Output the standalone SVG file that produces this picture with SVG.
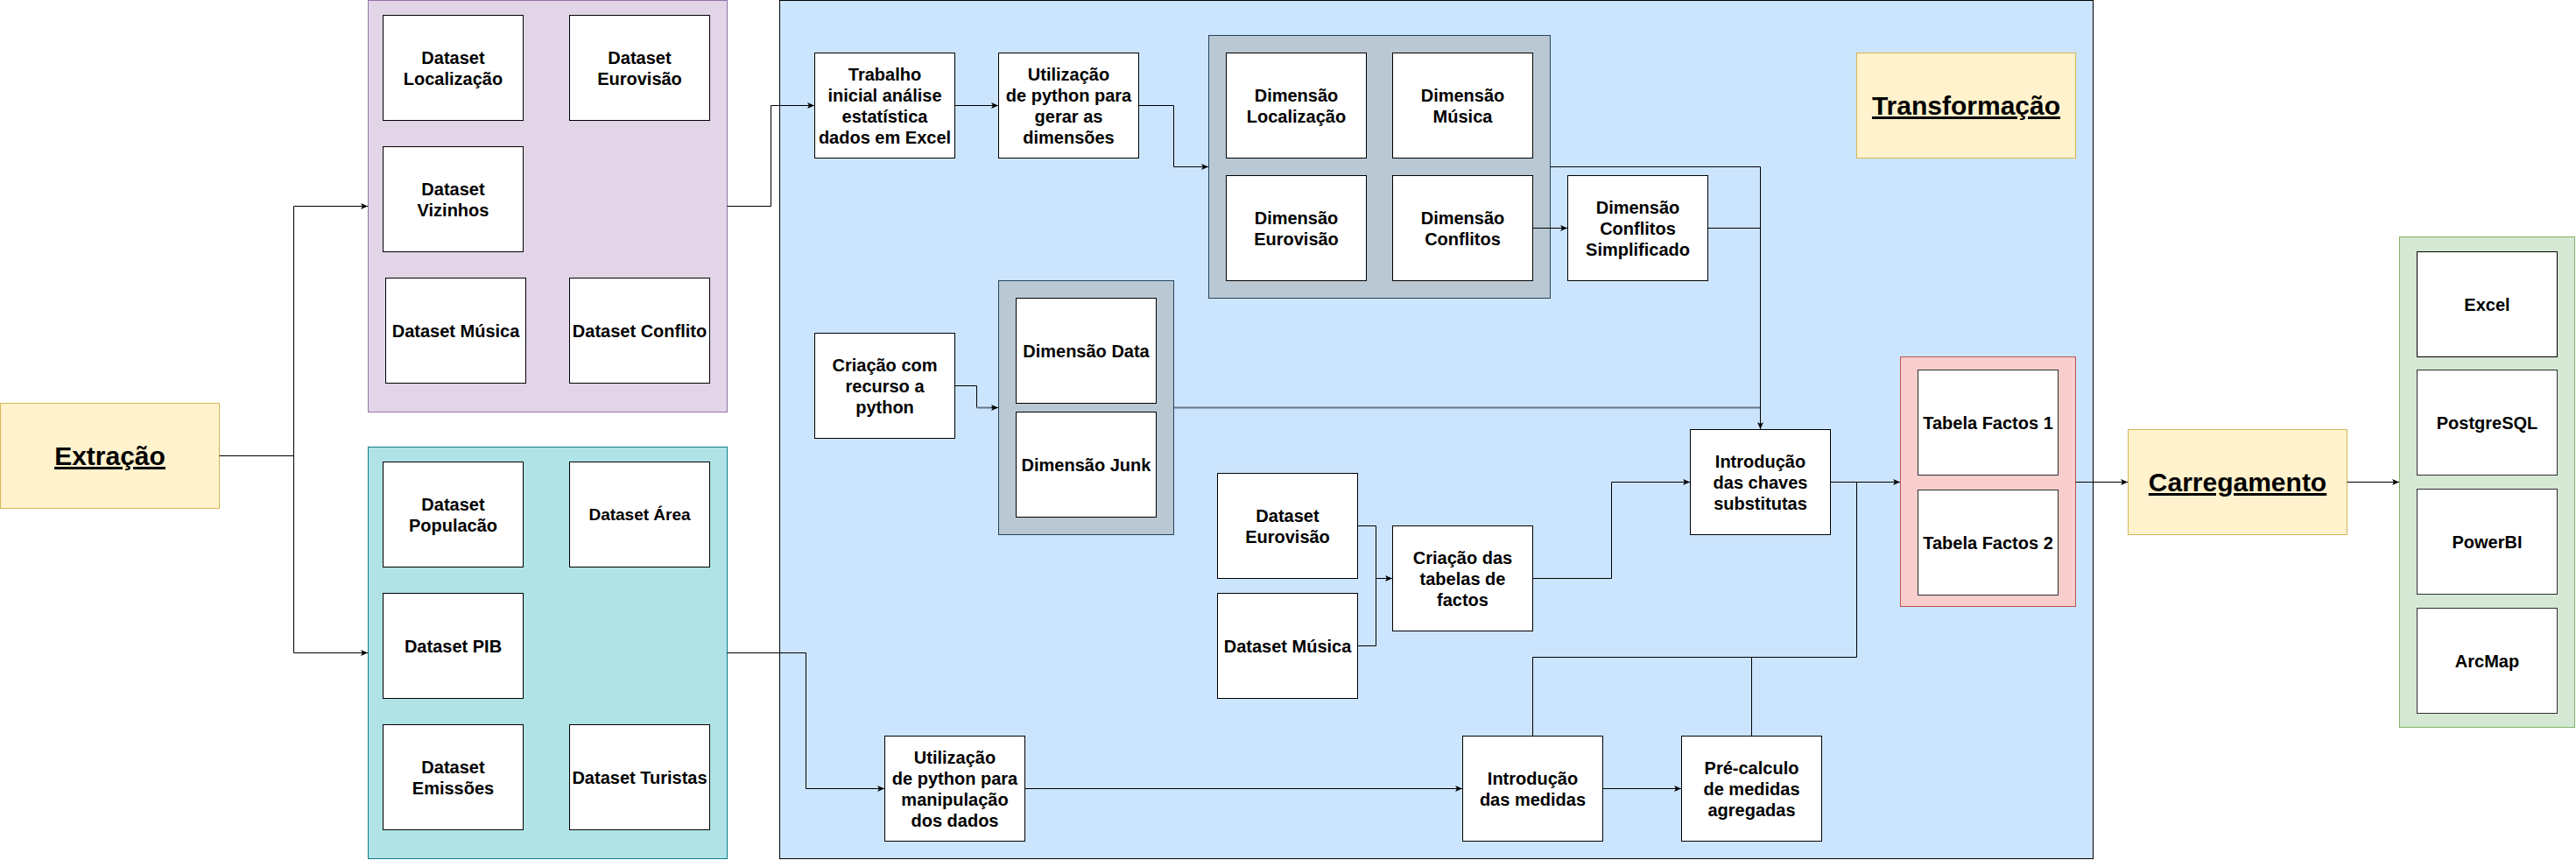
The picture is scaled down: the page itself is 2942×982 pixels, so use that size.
<svg xmlns="http://www.w3.org/2000/svg" width="2942" height="982" viewBox="0 0 2942 982">
  <style>
    text { font-family: "Liberation Sans", Arial, Helvetica, sans-serif; font-weight: bold; font-size: 20px; fill: #000; text-anchor: middle; }
    .title { font-size: 30px; text-decoration: underline; }
    .box { fill: #ffffff; stroke: #000000; stroke-width: 1; }
    .soft { fill: #ffffff; stroke: #2e2e2e; stroke-width: 1; }
    .purple { fill: #e1d5e7; stroke: #9673a6; stroke-width: 1; }
    .cyan { fill: #b0e3e6; stroke: #0e8088; stroke-width: 1; }
    .blue { fill: #cce5ff; stroke: #000000; stroke-width: 1; }
    .grey { fill: #bac8d3; stroke: #23445d; stroke-width: 1; }
    .yellow { fill: #fff2cc; stroke: #d6b656; stroke-width: 1; }
    .red { fill: #f8cecc; stroke: #b85450; stroke-width: 1; }
    .green { fill: #d5e8d4; stroke: #82b366; stroke-width: 1; }
    .edge { fill: none; stroke: #000000; stroke-width: 1; }
    .edge-grey { fill: none; stroke: #647687; stroke-width: 2; }
  </style>
  <defs>
    <marker id="arrow" markerUnits="userSpaceOnUse" markerWidth="9" markerHeight="8" refX="8" refY="4" orient="auto">
      <path d="M0,0.5 L8,4 L0,7.5 L2,4 Z" fill="#000000"/>
    </marker>
  </defs>

  <!-- stage containers -->
  <g id="extraction-sources-a">
    <rect class="purple" x="420.5" y="0.5" width="410" height="470"/>
  </g>
  <g id="extraction-sources-b">
    <rect class="cyan" x="420.5" y="510.5" width="410" height="470"/>
  </g>
  <g id="transformation-area">
    <rect class="blue" x="890.5" y="0.5" width="1500" height="980"/>
  </g>

  <!-- Extraction label -->
  <g id="extracao">
    <rect class="yellow" x="0.5" y="460.5" width="250" height="120"/>
    <text class="title" x="125.5" y="531">Extração</text>
  </g>

  <!-- purple datasets -->
  <g id="ds-localizacao">
    <rect class="box" x="437.5" y="17.5" width="160" height="120"/>
    <text x="517.5" y="72.5"><tspan x="517.5">Dataset</tspan><tspan x="517.5" dy="24">Localização</tspan></text>
  </g>
  <g id="ds-eurovisao">
    <rect class="box" x="650.5" y="17.5" width="160" height="120"/>
    <text x="730.5" y="72.5"><tspan x="730.5">Dataset</tspan><tspan x="730.5" dy="24">Eurovisão</tspan></text>
  </g>
  <g id="ds-vizinhos">
    <rect class="box" x="437.5" y="167.5" width="160" height="120"/>
    <text x="517.5" y="222.5"><tspan x="517.5">Dataset</tspan><tspan x="517.5" dy="24">Vizinhos</tspan></text>
  </g>
  <g id="ds-musica">
    <rect class="box" x="440.5" y="317.5" width="160" height="120"/>
    <text x="520.5" y="384.5">Dataset Música</text>
  </g>
  <g id="ds-conflito">
    <rect class="box" x="650.5" y="317.5" width="160" height="120"/>
    <text x="730.5" y="384.5">Dataset Conflito</text>
  </g>

  <!-- cyan datasets -->
  <g id="ds-populacao">
    <rect class="box" x="437.5" y="527.5" width="160" height="120"/>
    <text x="517.5" y="582.5"><tspan x="517.5">Dataset</tspan><tspan x="517.5" dy="24">Populacão</tspan></text>
  </g>
  <g id="ds-area">
    <rect class="box" x="650.5" y="527.5" width="160" height="120"/>
    <text x="730.5" y="594" style="font-size:19px">Dataset Área</text>
  </g>
  <g id="ds-pib">
    <rect class="box" x="437.5" y="677.5" width="160" height="120"/>
    <text x="517.5" y="744.5">Dataset PIB</text>
  </g>
  <g id="ds-emissoes">
    <rect class="box" x="437.5" y="827.5" width="160" height="120"/>
    <text x="517.5" y="882.5"><tspan x="517.5">Dataset</tspan><tspan x="517.5" dy="24">Emissões</tspan></text>
  </g>
  <g id="ds-turistas">
    <rect class="box" x="650.5" y="827.5" width="160" height="120"/>
    <text x="730.5" y="894.5">Dataset Turistas</text>
  </g>

  <!-- transformation steps -->
  <g id="trabalho-inicial">
    <rect class="box" x="930.5" y="60.5" width="160" height="120"/>
    <text x="1010.5" y="91.5"><tspan x="1010.5">Trabalho</tspan><tspan x="1010.5" dy="24">inicial análise</tspan><tspan x="1010.5" dy="24">estatística</tspan><tspan x="1010.5" dy="24">dados em Excel</tspan></text>
  </g>
  <g id="python-dimensoes">
    <rect class="box" x="1140.5" y="60.5" width="160" height="120"/>
    <text x="1220.5" y="91.5"><tspan x="1220.5">Utilização</tspan><tspan x="1220.5" dy="24">de python para</tspan><tspan x="1220.5" dy="24">gerar as</tspan><tspan x="1220.5" dy="24">dimensões</tspan></text>
  </g>

  <g id="dimensoes">
    <rect class="grey" x="1380.5" y="40.5" width="390" height="300"/>
  </g>
  <g id="dim-localizacao">
    <rect class="box" x="1400.5" y="60.5" width="160" height="120"/>
    <text x="1480.5" y="115.5"><tspan x="1480.5">Dimensão</tspan><tspan x="1480.5" dy="24">Localização</tspan></text>
  </g>
  <g id="dim-musica">
    <rect class="box" x="1590.5" y="60.5" width="160" height="120"/>
    <text x="1670.5" y="115.5"><tspan x="1670.5">Dimensão</tspan><tspan x="1670.5" dy="24">Música</tspan></text>
  </g>
  <g id="dim-eurovisao">
    <rect class="box" x="1400.5" y="200.5" width="160" height="120"/>
    <text x="1480.5" y="255.5"><tspan x="1480.5">Dimensão</tspan><tspan x="1480.5" dy="24">Eurovisão</tspan></text>
  </g>
  <g id="dim-conflitos">
    <rect class="box" x="1590.5" y="200.5" width="160" height="120"/>
    <text x="1670.5" y="255.5"><tspan x="1670.5">Dimensão</tspan><tspan x="1670.5" dy="24">Conflitos</tspan></text>
  </g>
  <g id="dim-conflitos-simplificado">
    <rect class="box" x="1790.5" y="200.5" width="160" height="120"/>
    <text x="1870.5" y="243.5"><tspan x="1870.5">Dimensão</tspan><tspan x="1870.5" dy="24">Conflitos</tspan><tspan x="1870.5" dy="24">Simplificado</tspan></text>
  </g>

  <g id="transformacao">
    <rect class="yellow" x="2120.5" y="60.5" width="250" height="120"/>
    <text class="title" x="2245.5" y="131">Transformação</text>
  </g>

  <g id="criacao-python">
    <rect class="box" x="930.5" y="380.5" width="160" height="120"/>
    <text x="1010.5" y="423.5"><tspan x="1010.5">Criação com</tspan><tspan x="1010.5" dy="24">recurso a</tspan><tspan x="1010.5" dy="24">python</tspan></text>
  </g>
  <g id="dimensoes-geradas">
    <rect class="grey" x="1140.5" y="320.5" width="200" height="290"/>
  </g>
  <g id="dim-data">
    <rect class="box" x="1160.5" y="340.5" width="160" height="120"/>
    <text x="1240.5" y="407.5">Dimensão Data</text>
  </g>
  <g id="dim-junk">
    <rect class="box" x="1160.5" y="470.5" width="160" height="120"/>
    <text x="1240.5" y="537.5">Dimensão Junk</text>
  </g>

  <g id="ds-eurovisao-factos">
    <rect class="box" x="1390.5" y="540.5" width="160" height="120"/>
    <text x="1470.5" y="595.5"><tspan x="1470.5">Dataset</tspan><tspan x="1470.5" dy="24">Eurovisão</tspan></text>
  </g>
  <g id="ds-musica-factos">
    <rect class="box" x="1390.5" y="677.5" width="160" height="120"/>
    <text x="1470.5" y="744.5">Dataset Música</text>
  </g>
  <g id="criacao-tabelas">
    <rect class="box" x="1590.5" y="600.5" width="160" height="120"/>
    <text x="1670.5" y="643.5"><tspan x="1670.5">Criação das</tspan><tspan x="1670.5" dy="24">tabelas de</tspan><tspan x="1670.5" dy="24">factos</tspan></text>
  </g>
  <g id="chaves-substitutas">
    <rect class="box" x="1930.5" y="490.5" width="160" height="120"/>
    <text x="2010.5" y="533.5"><tspan x="2010.5">Introdução</tspan><tspan x="2010.5" dy="24">das chaves</tspan><tspan x="2010.5" dy="24">substitutas</tspan></text>
  </g>
  <g id="python-manipulacao">
    <rect class="box" x="1010.5" y="840.5" width="160" height="120"/>
    <text x="1090.5" y="871.5"><tspan x="1090.5">Utilização</tspan><tspan x="1090.5" dy="24">de python para</tspan><tspan x="1090.5" dy="24">manipulação</tspan><tspan x="1090.5" dy="24">dos dados</tspan></text>
  </g>
  <g id="introducao-medidas">
    <rect class="box" x="1670.5" y="840.5" width="160" height="120"/>
    <text x="1750.5" y="895.5"><tspan x="1750.5">Introdução</tspan><tspan x="1750.5" dy="24">das medidas</tspan></text>
  </g>
  <g id="pre-calculo">
    <rect class="box" x="1920.5" y="840.5" width="160" height="120"/>
    <text x="2000.5" y="883.5"><tspan x="2000.5">Pré-calculo</tspan><tspan x="2000.5" dy="24">de medidas</tspan><tspan x="2000.5" dy="24">agregadas</tspan></text>
  </g>

  <g id="tabelas-factos">
    <rect class="red" x="2170.5" y="407.5" width="200" height="285"/>
  </g>
  <g id="tabela-factos-1">
    <rect class="soft" x="2190.5" y="422.5" width="160" height="120"/>
    <text x="2270.5" y="489.5">Tabela Factos 1</text>
  </g>
  <g id="tabela-factos-2">
    <rect class="soft" x="2190.5" y="559.5" width="160" height="120"/>
    <text x="2270.5" y="626.5">Tabela Factos 2</text>
  </g>

  <!-- Loading stage -->
  <g id="carregamento">
    <rect class="yellow" x="2430.5" y="490.5" width="250" height="120"/>
    <text class="title" x="2555.5" y="561">Carregamento</text>
  </g>
  <g id="destinos">
    <rect class="green" x="2740.5" y="270.5" width="200" height="560"/>
  </g>
  <g id="excel">
    <rect class="box" x="2760.5" y="287.5" width="160" height="120"/>
    <text x="2840.5" y="354.5">Excel</text>
  </g>
  <g id="postgresql">
    <rect class="soft" x="2760.5" y="422.5" width="160" height="120"/>
    <text x="2840.5" y="489.5">PostgreSQL</text>
  </g>
  <g id="powerbi">
    <rect class="soft" x="2760.5" y="558.5" width="160" height="120"/>
    <text x="2840.5" y="625.5">PowerBI</text>
  </g>
  <g id="arcmap">
    <rect class="soft" x="2760.5" y="694.5" width="160" height="120"/>
    <text x="2840.5" y="761.5">ArcMap</text>
  </g>

  <!-- connectors -->
  <g id="connectors">
    <path class="edge" d="M250.5,520.5 H335.5 V235.5 H420" marker-end="url(#arrow)"/>
    <path class="edge" d="M335.5,520.5 V745.5 H420" marker-end="url(#arrow)"/>
    <path class="edge" d="M830.5,235.5 H880.5 V120.5 H930" marker-end="url(#arrow)"/>
    <path class="edge" d="M830.5,745.5 H920.5 V900.5 H1010" marker-end="url(#arrow)"/>
    <path class="edge" d="M1090.5,120.5 H1140" marker-end="url(#arrow)"/>
    <path class="edge" d="M1300.5,120.5 H1340.5 V190.5 H1380" marker-end="url(#arrow)"/>
    <path class="edge" d="M1090.5,440.5 H1115.5 V465.5"/>
    <path class="edge-grey" d="M1115.5,465.5 H1134"/>
    <path class="edge" d="M1132,465.5 H1140" marker-end="url(#arrow)"/>
    <path class="edge" d="M1770.5,190.5 H2010.5 V490" marker-end="url(#arrow)"/>
    <path class="edge" d="M1750.5,260.5 H1790" marker-end="url(#arrow)"/>
    <path class="edge" d="M1950.5,260.5 H2010.5"/>
    <path class="edge-grey" d="M1341,465.5 H2010"/>
    <path class="edge" d="M1550.5,600.5 H1571.5 V660.5 H1590" marker-end="url(#arrow)"/>
    <path class="edge" d="M1550.5,737.5 H1571.5 V660.5"/>
    <path class="edge" d="M1750.5,660.5 H1840.5 V550.5 H1930" marker-end="url(#arrow)"/>
    <path class="edge" d="M2090.5,550.5 H2170" marker-end="url(#arrow)"/>
    <path class="edge" d="M1170.5,900.5 H1670" marker-end="url(#arrow)"/>
    <path class="edge" d="M1830.5,900.5 H1920" marker-end="url(#arrow)"/>
    <path class="edge" d="M1750.5,840.5 V750.5 H2120.5 V550.5"/>
    <path class="edge" d="M2000.5,840.5 V750.5"/>
    <path class="edge" d="M2370.5,550.5 H2430" marker-end="url(#arrow)"/>
    <path class="edge" d="M2680.5,550.5 H2740" marker-end="url(#arrow)"/>
  </g>
</svg>
